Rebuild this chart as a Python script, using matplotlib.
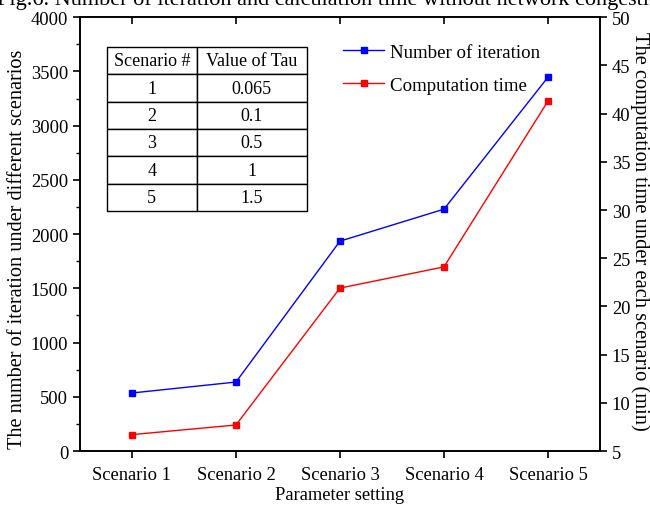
import matplotlib
matplotlib.use("Agg")
import matplotlib.pyplot as plt
import matplotlib.lines as mlines
from matplotlib.ticker import MultipleLocator

plt.rcParams['font.family'] = ['Liberation Serif', 'DejaVu Serif']

categories = ["Scenario 1", "Scenario 2", "Scenario 3", "Scenario 4", "Scenario 5"]
iterations = [535, 636, 1935, 2230, 3447]
comp_time = [6.7, 7.7, 21.9, 24.1, 41.3]
table_header = ["Scenario #", "Value of Tau"]
table_scen = ["1", "2", "3", "4", "5"]
table_tau = ["0.065", "0.1", "0.5", "1", "1.5"]
title = "Fig.6. Number of iteration and calculation time without network congestion"

fig = plt.figure(figsize=(6.5, 5.06), dpi=100)
ax = fig.add_axes([0.123, 0.1067, 0.8, 0.8573])
ax2 = ax.twinx()

x = list(range(1, len(categories) + 1))
l1, = ax.plot(x, iterations, color='#0000ff', lw=1, marker='s', ms=4.2,
              label='Number of iteration')
l2, = ax2.plot(x, comp_time, color='#ff0000', lw=1, marker='s', ms=4.2,
               label='Computation time')

ax.set_xlim(0.5, 5.5)
ax.set_ylim(0, 4000)
ax.set_yticks(range(0, 4001, 500))
ax.yaxis.set_minor_locator(MultipleLocator(250))
ax2.set_ylim(5, 50)
ax2.set_yticks(range(5, 51, 5))
ax.set_xticks(x)
ax.set_xticklabels(categories)

for a in (ax, ax2):
    for s in a.spines.values():
        s.set_linewidth(1.2)
ax.tick_params(axis='both', which='major', labelsize=13.3, direction='out',
               width=1.2, length=5)
ax.tick_params(axis='x', which='major', top=True, pad=6)
ax.tick_params(axis='y', which='minor', direction='out', width=1.0, length=3)
ax2.tick_params(axis='y', labelsize=13.3, direction='out', width=1.2, length=5)
for t in ax.xaxis.get_major_ticks():
    t.tick2line.set_marker(mlines.TICKDOWN)

ax.set_xlabel("Parameter setting", fontsize=13.3, labelpad=2)
ax.set_ylabel("The number of iteration under different scenarios", fontsize=14.6, labelpad=2.5)
ax.yaxis.label.set_y(0.468)
ax2.set_ylabel("The computation time under each scenario (min)", fontsize=14.8,
               rotation=-90, labelpad=14)
ax2.yaxis.label.set_y(0.509)

ax.legend([l1, l2], [l1.get_label(), l2.get_label()], loc='upper left',
          bbox_to_anchor=(0.473, 0.979), frameon=False, fontsize=13.6,
          handlelength=2.2, handletextpad=0.3, labelspacing=0.85)

cell_text = [[s, t] for s, t in zip(table_scen, table_tau)]
tbl = ax.table(cellText=cell_text, colLabels=table_header, cellLoc='center',
               bbox=[0.052, 0.553, 0.385, 0.378])
tbl.auto_set_font_size(False)
tbl.set_fontsize(13)
for (r, c), cell in tbl.get_celld().items():
    cell.set_linewidth(1.0)
    cell.set_edgecolor('black')
    cell.set_facecolor('white')
    cell.set_width(0.4475 * 0.385 if c == 0 else 0.5525 * 0.385)

fig.text(-0.004, 0.991, title, fontsize=16, ha='left', va='baseline')

fig.savefig("out.png", dpi=100)
